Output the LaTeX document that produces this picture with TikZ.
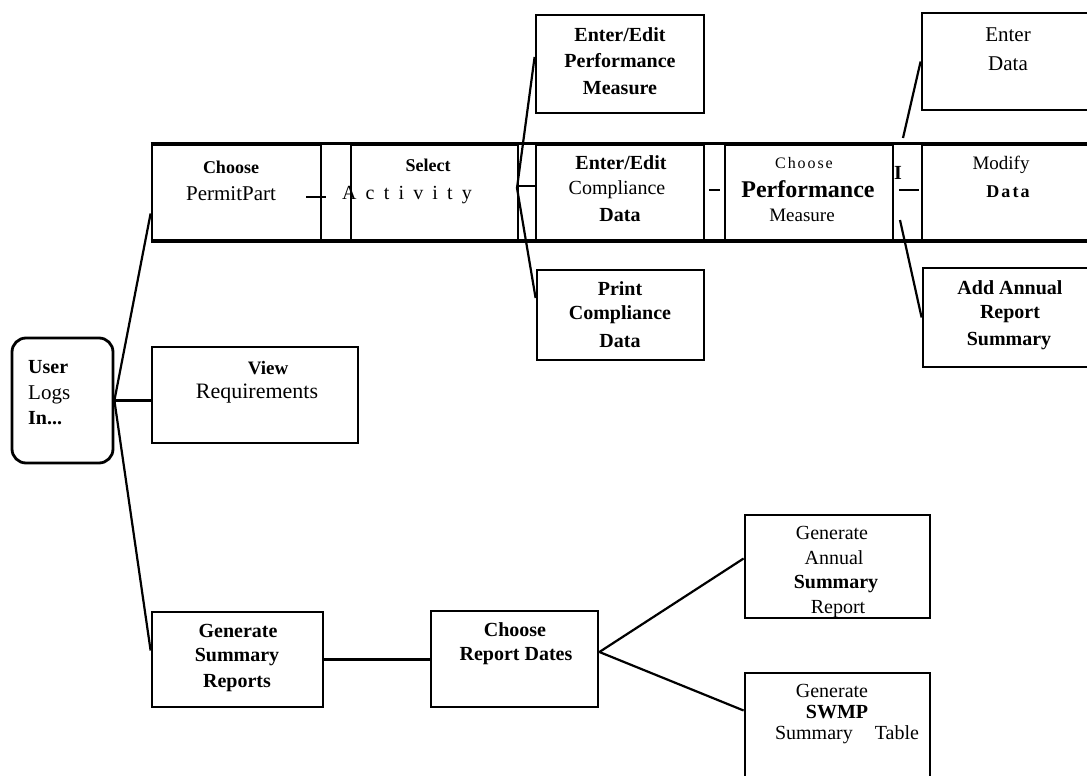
\documentclass[tikz,border=0pt]{standalone}
\usepackage{fontspec}
\setmainfont{Liberation Serif}
\newfontfamily\spacedA[LetterSpace=46]{Liberation Serif}
\newfontfamily\spacedB[LetterSpace=12]{Liberation Serif}
\newcommand\myfs[1]{\fontsize{#1}{#1}\selectfont}
\begin{document}
\begin{tikzpicture}[x=1pt,y=-1pt,
  bx/.style={draw,line width=2.8pt,inner sep=0pt},
  ln/.style={line width=2.2pt},
  t/.style={inner sep=0pt,anchor=center,font=\myfs{20}},
  tb/.style={inner sep=0pt,anchor=center,font=\myfs{20}\bfseries},
  tl/.style={inner sep=0pt,anchor=west,font=\myfs{20}}]
\useasboundingbox (0,0) rectangle (1087,776);
\clip (0,0) rectangle (1087,776);

% ---- top band boxes
\node[bx,minimum width=169,minimum height=95] (choose) at (236.5,192.5) {};
\node[bx,minimum width=167,minimum height=95] (select) at (434.5,192.5) {};
\node[bx,minimum width=18,minimum height=54] (small) at (527,213) {};
\node[bx,minimum width=168,minimum height=95] (compl) at (620,192.5) {};
\node[bx,minimum width=168,minimum height=95] (perf) at (809,192.5) {};
\node[bx,minimum width=178,minimum height=95] (modify) at (1011,192.5) {};
\draw[line width=2.8pt] (choose.north west) -- (choose.north west -| modify.east);
\draw[line width=4pt] (choose.south west) -- (choose.south west -| modify.east);

% ---- upper / lower side boxes
\node[bx,minimum width=168,minimum height=98] (eepm) at (620,64) {};
\node[bx,minimum width=178,minimum height=97] (enter) at (1011,61.5) {};
\node[bx,minimum width=167,minimum height=90] (print) at (620.5,315) {};
\node[bx,minimum width=177,minimum height=99] (addann) at (1011.5,317.5) {};

% ---- left and bottom boxes
\node[bx,rounded corners=14pt,minimum width=101,minimum height=125] (user) at (62.5,400.5) {};
\node[bx,minimum width=206,minimum height=96] (view) at (255,395) {};
\node[bx,minimum width=171,minimum height=95] (gensum) at (237.5,659.5) {};
\node[bx,minimum width=167,minimum height=96] (crd) at (514.5,659) {};
\node[bx,minimum width=185,minimum height=103] (annual) at (837.5,566.5) {};
\node[bx,minimum width=185,minimum height=127] (swmp) at (837.5,736.5) {};

% ---- texts
\node[tb,font=\myfs{18}\bfseries] (choose1) at (231,167) {Choose};
\node[t,font=\myfs{21}] (choose2) at (231,194) {PermitPart};
\node[tb,font=\myfs{18}\bfseries] (select1) at (428,165) {Select};
\node[t,font=\myfs{20}\spacedA] (select2) at (407,195) {Activity};
\node[tb] (compl1) at (621,163) {Enter/Edit};
\node[t] (compl2) at (617,190) {Compliance};
\node[tb] (compl3) at (620,215) {Data};
\node[tb] (eepm1) at (620,35) {Enter/Edit};
\node[tb] (eepm2) at (620,61) {Performance};
\node[tb] (eepm3) at (620,88) {Measure};
\node[t,font=\myfs{16}\spacedB] (perf1) at (804,163) {Choose};
\node[tb,font=\myfs{24}\bfseries] (perf2) at (808,189) {Performance};
\node[t,font=\myfs{19}] (perf3) at (802,215) {Measure};
\node[tb] (bar) at (898,173) {I};
\node[t,font=\myfs{19}] (mod1) at (1001,165) {Modify};
\node[tb,font=\myfs{18}\bfseries\spacedB] (mod2) at (1008,192) {Data};
\node[t,font=\myfs{21}] (enter1) at (1008,35) {Enter};
\node[t,font=\myfs{21}] (enter2) at (1008,64) {Data};
\node[tb] (print1) at (620,289) {Print};
\node[tb] (print2) at (620,315) {Compliance};
\node[tb] (print3) at (620,341) {Data};
\node[tb] (add1) at (1010,288) {Add Annual};
\node[tb] (add2) at (1010,314) {Report};
\node[tb] (add3) at (1009,341) {Summary};
\node[tl,font=\myfs{20}\bfseries] (user1) at (28,367) {User};
\node[tl,font=\myfs{21}] (user2) at (28,395) {Logs};
\node[tl,font=\myfs{20}\bfseries] (user3) at (28,418) {In...};
\node[tb,font=\myfs{19}\bfseries] (view1) at (268,368) {View};
\node[t,font=\myfs{22}] (view2) at (257,394) {Requirements};
\node[tb] (gen1) at (238,631) {Generate};
\node[tb] (gen2) at (237,657) {Summary};
\node[tb] (gen3) at (237,683) {Reports};
\node[tb] (crd1) at (515,630) {Choose};
\node[tb] (crd2) at (516,656) {Report Dates};
\node[t] (ann1) at (832,533) {Generate};
\node[t] (ann2) at (834,558) {Annual};
\node[tb] (ann3) at (836,584) {Summary};
\node[t] (ann4) at (838,609) {Report};
\node[t] (sw1) at (832,691) {Generate};
\node[tb] (sw2) at (837,712) {SWMP};
\node[t] (sw3) at (847,735) {Summary\hspace{22pt}Table};

% ---- connectors
\draw[ln] (user.east) -- ([yshift=-21pt]choose.west);
\draw[ln] (user.east) -- (user.east -| view.west);
\draw[ln] (user.east) -- ([yshift=9pt]gensum.west);
\draw[ln] (gensum.east) -- (gensum.east -| crd.west);
\coordinate (crdhub) at ([yshift=7pt]crd.east);
\draw[ln] (crdhub) -- ([yshift=8pt]annual.west);
\draw[ln] (crdhub) -- ([yshift=26pt]swmp.west);
\coordinate (tj) at (517,188);
\draw[ln] (tj) -- ([yshift=7pt]eepm.west);
\draw[ln] (tj) -- ([yshift=17pt]print.west);
\coordinate (pj1) at (903,138);
\draw[ln] (pj1) -- (enter.west);
\coordinate (pj2) at (900,220);
\draw[ln] (pj2) -- (addann.west);
% short dashes between top boxes
\coordinate (d1) at ([xshift=-16pt,yshift=-4.5pt]choose.east);
\draw[ln] (d1) -- ++(20,0);
\coordinate (d2) at ([xshift=4pt,yshift=2.5pt]compl.east);
\draw[line width=2.4pt] (d2) -- ++(11,0);
\coordinate (d3) at ([xshift=5pt,yshift=2.5pt]perf.east);
\draw[ln] (d3) -- ++(20,0);
\end{tikzpicture}
\end{document}
